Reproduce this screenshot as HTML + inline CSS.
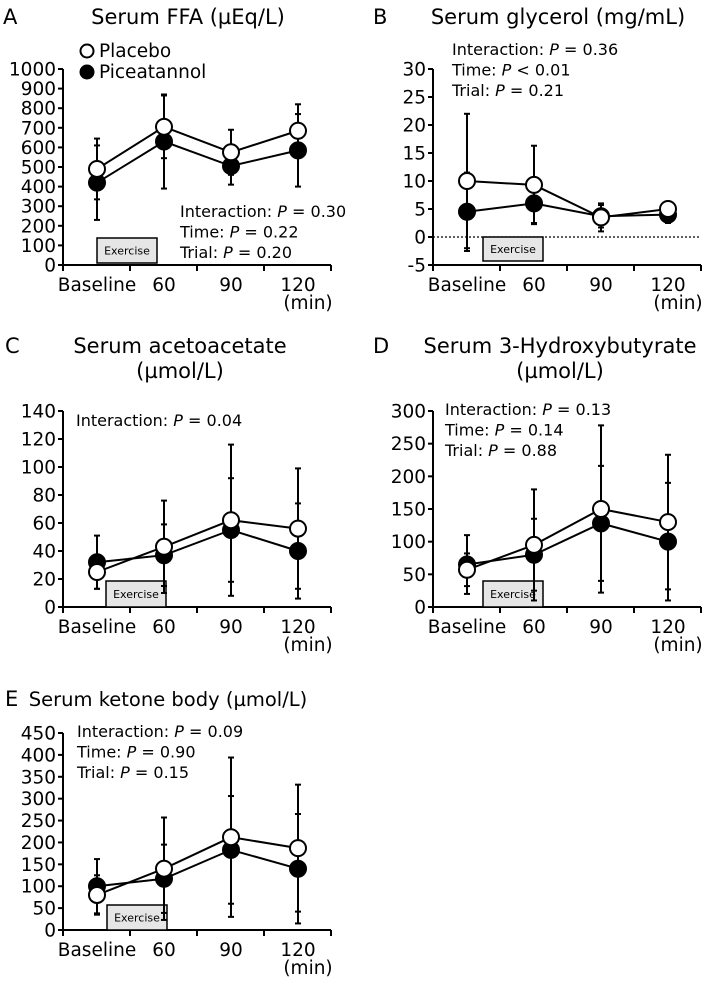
<!DOCTYPE html>
<html><head><meta charset="utf-8"><style>
body{margin:0;background:#fff;}
svg{display:block;font-family:"DejaVu Sans","Liberation Sans",sans-serif;}
</style></head><body>
<svg id="fig" width="725" height="986" viewBox="0 0 725 986"></svg>
<script>
const categories=["Baseline","60","90","120"];
const aPlacebo=[490,705,575,685], aPlaceboErr=[155,160,115,135];
const aPicea=[420,630,505,585], aPiceaErr=[190,240,95,185];
const bPlacebo=[10,9.3,3.5,5], bPlaceboErr=[12,7,2.5,0.5];
const bPicea=[4.5,6,3.7,4], bPiceaErr=[7,3.5,2,1.5];
const cPlacebo=[25,43,62,56], cPlaceboErr=[12,33,54,43];
const cPicea=[32,37,55,40], cPiceaErr=[19,22,37,34];
const dPlacebo=[57,95,150,130], dPlaceboErr=[25,85,128,103];
const dPicea=[65,80,128,100], dPiceaErr=[45,55,88,90];
const ePlacebo=[80,140,212,187], ePlaceboErr=[45,117,182,145];
const ePicea=[100,117,183,140], ePiceaErr=[62,78,123,125];
const aTicks=[0,100,200,300,400,500,600,700,800,900,1000];
const bTicks=[-5,0,5,10,15,20,25,30];
const cTicks=[0,20,40,60,80,100,120,140];
const dTicks=[0,50,100,150,200,250,300];
const eTicks=[0,50,100,150,200,250,300,350,400,450];

const NS="http://www.w3.org/2000/svg";
const svg=document.getElementById('fig');
function mk(tag,attrs,parent,text){const e=document.createElementNS(NS,tag);for(const k in attrs)e.setAttribute(k,attrs[k]);if(text!==undefined)e.textContent=text;(parent||svg).appendChild(e);return e;}

function panel(cfg){
  const g=mk('g',{});
  
  
  const yMin=cfg.ticks[0],yMax=cfg.ticks[cfg.ticks.length-1];
  const ys=v=>cfg.yb+(v-yMin)/(yMax-yMin)*(cfg.yt-cfg.yb);
  const xs=i=>cfg.ax+34+67*i;
  const xEnd=cfg.ax+268;
  let t=mk('text',{x:cfg.lx,y:cfg.ty,'font-size':21},g,cfg.id);
  
  cfg.title.forEach((s,k)=>{const tt=mk('text',{x:cfg.tx,y:cfg.ty+k*25,'font-size':cfg.tfs||21,'text-anchor':'middle'},g,s);
    });
  const ya=mk('line',{x1:cfg.ax,y1:cfg.yb,x2:cfg.ax,y2:cfg.yt,stroke:'#000','stroke-width':2},g);
  
  cfg.ticks.forEach(v=>{const y=ys(v);
    mk('line',{x1:cfg.ax-5,y1:y,x2:cfg.ax,y2:y,stroke:'#000','stroke-width':2},g);
    const tl=mk('text',{x:cfg.ax-7,y:y+6.5,'font-size':18.5,'text-anchor':'end'},g,v);
    });
  const xaY=cfg.yb;
  const xa=mk('line',{x1:cfg.ax,y1:xaY,x2:xEnd,y2:xaY,stroke:'#000','stroke-width':2},g);
  
  for(let k=0;k<=4;k++)mk('line',{x1:cfg.ax+67*k,y1:xaY,x2:cfg.ax+67*k,y2:xaY+6,stroke:'#000','stroke-width':2},g);
  categories.forEach((c,i)=>{const xl=mk('text',{x:xs(i),y:xaY+26,'font-size':18.5,'text-anchor':'middle'},g,c);
    });
  const mn=mk('text',{x:xs(3)+10,y:xaY+44,'font-size':18.5,'text-anchor':'middle'},g,'(min)');
  
  if(cfg.zero){const zl=mk('line',{x1:cfg.ax,y1:ys(0),x2:xEnd,y2:ys(0),stroke:'#000','stroke-width':1.2,'stroke-dasharray':'2,2'},g);
    }
  const eb=mk('rect',{x:cfg.ex,y:cfg.ey,width:60,height:cfg.eh,fill:'#e6e6e6',stroke:'#000','stroke-width':1.5},g);
  
  const et=mk('text',{x:cfg.ex+30,y:cfg.ey+cfg.eh/2+4,'font-size':11,'text-anchor':'middle'},g,'Exercise');
  
  [[cfg.pic,cfg.picE,'piceatannol'],[cfg.pla,cfg.plaE,'placebo']].forEach(([vals,errs,nm])=>{
    vals.forEach((v,i)=>{
      const bot=v-errs[i];
      const el=mk('line',{x1:xs(i),y1:ys(v+errs[i]),x2:xs(i),y2:ys(bot),stroke:'#000','stroke-width':2},g);
      
      [v+errs[i],bot].forEach(w=>mk('line',{x1:xs(i)-3,y1:ys(w),x2:xs(i)+3,y2:ys(w),stroke:'#000','stroke-width':2},g));
    });
  });
  [[cfg.pic,'piceatannol'],[cfg.pla,'placebo']].forEach(([vals,nm])=>{
    const pl=mk('polyline',{points:vals.map((v,i)=>xs(i)+','+ys(v)).join(' '),fill:'none',stroke:'#000','stroke-width':2},g);
    
  });
  [[cfg.pic,'#000','piceatannol'],[cfg.pla,'#fff','placebo']].forEach(([vals,fill,nm])=>{
    vals.forEach((v,i)=>{const c=mk('circle',{cx:xs(i),cy:ys(v),r:8,fill:fill,stroke:'#000','stroke-width':2},g);
      });
  });
  cfg.stats.forEach((s,k)=>{const st=mk('text',{x:cfg.sx,y:cfg.sy+k*20.5,'font-size':16},g);
    
    mk('tspan',{},st,s[0]+' ');mk('tspan',{'font-style':'italic'},st,'P');mk('tspan',{},st,' '+s[1]);});
}

panel({id:'A',lx:3,tx:188,ty:24,title:['Serum FFA (µEq/L)'],ax:63,yb:265,yt:69,ticks:aTicks,
  pla:aPlacebo,plaE:aPlaceboErr,pic:aPicea,picE:aPiceaErr,ex:97,ey:238,eh:25,
  sx:180,sy:217,stats:[['Interaction:','= 0.30'],['Time:','= 0.22'],['Trial:','= 0.20']]});
panel({id:'B',lx:373,tx:558,ty:24,title:['Serum glycerol (mg/mL)'],ax:433,yb:265,yt:69,ticks:bTicks,zero:true,
  pla:bPlacebo,plaE:bPlaceboErr,pic:bPicea,picE:bPiceaErr,ex:483,ey:237,eh:24,
  sx:452,sy:55,stats:[['Interaction:','= 0.36'],['Time:','< 0.01'],['Trial:','= 0.21']]});
panel({id:'C',lx:5,tx:180,ty:353,title:['Serum acetoacetate','(µmol/L)'],ax:63,yb:607,yt:411,ticks:cTicks,
  pla:cPlacebo,plaE:cPlaceboErr,pic:cPicea,picE:cPiceaErr,ex:106,ey:581,eh:26,
  sx:76,sy:426,stats:[['Interaction:','= 0.04']]});
panel({id:'D',lx:373,tx:560,ty:353,title:['Serum 3-Hydroxybutyrate','(µmol/L)'],ax:433,yb:607,yt:411,ticks:dTicks,
  pla:dPlacebo,plaE:dPlaceboErr,pic:dPicea,picE:dPiceaErr,ex:483,ey:581,eh:26,
  sx:445,sy:415,stats:[['Interaction:','= 0.13'],['Time:','= 0.14'],['Trial:','= 0.88']]});
panel({id:'E',lx:5,tx:168,ty:706,tfs:19.5,title:['Serum ketone body (µmol/L)'],ax:63,yb:930,yt:733,ticks:eTicks,
  pla:ePlacebo,plaE:ePlaceboErr,pic:ePicea,picE:ePiceaErr,ex:107,ey:905,eh:25,
  sx:77,sy:737,stats:[['Interaction:','= 0.09'],['Time:','= 0.90'],['Trial:','= 0.15']]});

const lg=mk('g',{});


const l1=mk('circle',{cx:87,cy:51,r:6.5,fill:'#fff',stroke:'#000','stroke-width':2},lg);


const l1t=mk('text',{x:99,y:57,'font-size':18.5},lg,'Placebo');


const l2=mk('circle',{cx:87,cy:72,r:7,fill:'#000',stroke:'#000','stroke-width':1},lg);


const l2t=mk('text',{x:99,y:78,'font-size':18.5},lg,'Piceatannol');


</script>
</body></html>
